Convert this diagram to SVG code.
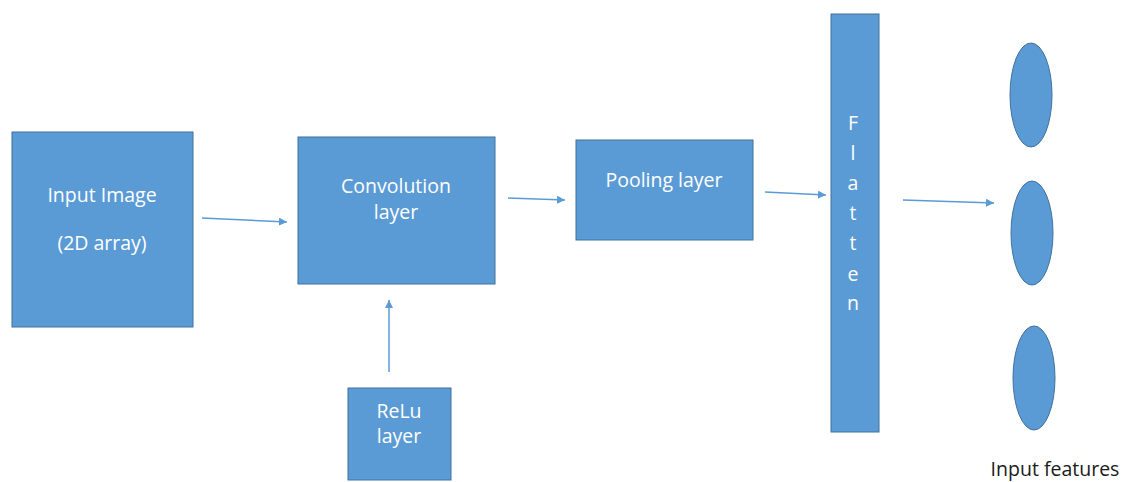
<svg xmlns="http://www.w3.org/2000/svg" width="1132" height="482" viewBox="0 0 1132 482">
<style>
.box{fill:#5B9BD5;stroke:#41719C;stroke-width:1}
.t{font-family:"Open Sans","Liberation Sans",sans-serif;font-size:19.5px;fill:#ffffff;text-anchor:middle}
.lbl{font-family:"Open Sans","Liberation Sans",sans-serif;font-size:19.5px;fill:#1a1a1a;text-anchor:middle}
.c{stroke:#5B9BD5;stroke-width:1.5;fill:none;marker-end:url(#ah)}
</style>
<defs>
<marker id="ah" viewBox="0 0 10 10" refX="10" refY="5" markerWidth="8" markerHeight="8" markerUnits="userSpaceOnUse" orient="auto">
<path d="M0,0 L10,5 L0,10 z" fill="#5B9BD5"/>
</marker>
</defs>
<rect width="1132" height="482" fill="#ffffff"/>
<g id="input-image">
<rect class="box" x="12" y="132" width="181" height="195"/>
<text class="t" x="102" y="202">Input Image</text>
<text class="t" x="102" y="250">(2D array)</text>
</g>
<g id="convolution">
<rect class="box" x="298" y="137" width="197" height="147"/>
<text class="t" x="396" y="193">Convolution</text>
<text class="t" x="396" y="219">layer</text>
</g>
<g id="pooling">
<rect class="box" x="576" y="140" width="177" height="100"/>
<text class="t" x="664" y="187">Pooling layer</text>
</g>
<g id="relu">
<rect class="box" x="348" y="388" width="103" height="92"/>
<text class="t" x="399" y="418">ReLu</text>
<text class="t" x="399" y="443">layer</text>
</g>
<g id="flatten">
<rect class="box" x="831" y="14" width="48" height="418"/>
<text class="t" x="853" y="130">F</text>
<text class="t" x="853" y="160">l</text>
<text class="t" x="853" y="190">a</text>
<text class="t" x="853" y="220">t</text>
<text class="t" x="853" y="250">t</text>
<text class="t" x="853" y="281">e</text>
<text class="t" x="853" y="310">n</text>
</g>
<g id="features">
<ellipse class="box" cx="1031" cy="95" rx="21" ry="52"/>
<ellipse class="box" cx="1032" cy="233" rx="21" ry="52"/>
<ellipse class="box" cx="1034" cy="378" rx="21" ry="52"/>
<text class="lbl" x="1055" y="476">Input features</text>
</g>
<g id="connectors">
<line class="c" x1="202" y1="218" x2="287" y2="222"/>
<line class="c" x1="508" y1="198" x2="565" y2="200"/>
<line class="c" x1="765" y1="192" x2="826" y2="195"/>
<line class="c" x1="903" y1="200" x2="994" y2="203"/>
<line class="c" x1="389" y1="372" x2="389" y2="300"/>
</g>
</svg>
